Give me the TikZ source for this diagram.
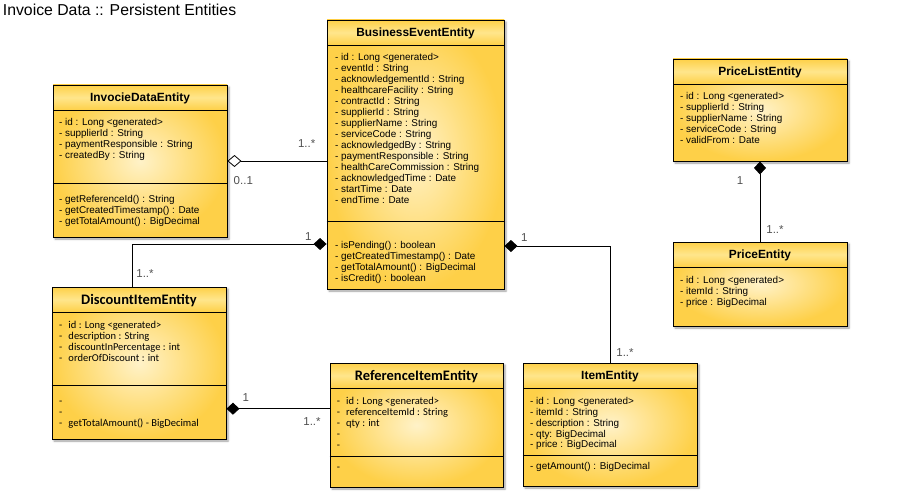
\documentclass[tikz,border=0pt]{standalone}
\usepackage{fontspec}
\setmainfont{Liberation Sans}
\newfontfamily\calfont{Carlito}
\usetikzlibrary{arrows.meta,shadows.blur}
\definecolor{umlouter}{RGB}{254,208,72}
\definecolor{umlinner}{RGB}{255,242,200}
\definecolor{umlband}{RGB}{255,230,140}
\definecolor{multgray}{RGB}{80,80,80}
\newcommand{\dash}{\makebox[9.3pt][l]{-}}

\begin{document}
\begin{tikzpicture}[x=1pt,y=-1pt,
    classbox/.style={rectangle, draw, line width=0.9pt, inner sep=0pt, inner color=umlinner, outer color=umlouter,
        blur shadow={shadow xshift=2pt, shadow yshift=-2pt, shadow blur radius=2pt, shadow opacity=40}},
    band/.style={rectangle, draw, line width=0.9pt, inner sep=0pt, anchor=north, minimum height=25pt,
        top color=umlouter, bottom color=umlouter, middle color=umlband, text depth=0pt},
    ctitle/.style={band, font=\fontsize{11.9}{13}\selectfont\bfseries},
    ktitle/.style={band, font=\calfont\fontsize{14.5}{16}\selectfont\bfseries},
    members/.style={anchor=north west, align=left, inner sep=0pt, font=\fontsize{9.9}{10.95}\selectfont},
    kmembers/.style={anchor=north west, align=left, inner sep=0pt, font=\calfont\fontsize{10.5}{11}\selectfont},
    divider/.style={line width=0.9pt},
    mult/.style={font=\fontsize{11.5}{13}\selectfont, text=multgray, text depth=0pt, inner sep=0pt},
    compo/.style={{Diamond[length=13pt,width=12pt]}-, line width=0.8pt},
    aggr/.style={{Diamond[open,length=14pt,width=12pt,fill=white]}-, line width=0.8pt}
]
\useasboundingbox (0,0) rectangle (915,492);

% Diagram title
\node[anchor=base west, inner sep=0pt, font=\fontsize{15.8}{18}\selectfont] (diagtitle) at (2.7,15.5) {Invoice Data :: Persistent Entities};

% Class boxes
\node[classbox, minimum width=174pt, minimum height=152pt] (ide) at (140,161) {};
\node[classbox, minimum width=177pt, minimum height=269pt] (bee) at (415.5,154.5) {};
\node[classbox, minimum width=174pt, minimum height=102pt] (ple) at (760,110) {};
\node[classbox, minimum width=174pt, minimum height=84pt] (pe) at (760,284) {};
\node[classbox, minimum width=174pt, minimum height=152pt] (die) at (139,363) {};
\node[classbox, minimum width=173pt, minimum height=124pt] (rie) at (416.5,425) {};
\node[classbox, minimum width=174pt, minimum height=123pt] (ie) at (610,424.5) {};

% Title compartments
\node[ctitle, minimum width=174pt] (ide-t) at (ide.north) {InvocieDataEntity};
\node[ctitle, minimum width=177pt] (bee-t) at (bee.north) {BusinessEventEntity};
\node[ctitle, minimum width=174pt] (ple-t) at (ple.north) {PriceListEntity};
\node[ctitle, minimum width=174pt] (pe-t) at (pe.north) {PriceEntity};
\node[ktitle, minimum width=174pt] (die-t) at (die.north) {DiscountItemEntity};
\node[ktitle, minimum width=173pt] (rie-t) at (rie.north) {ReferenceItemEntity};
\node[ctitle, minimum width=174pt] (ie-t) at (ie.north) {ItemEntity};

% Method dividers
\draw[divider] (ide.west |- 0,183) -- (ide.east |- 0,183);
\draw[divider] (bee.west |- 0,221) -- (bee.east |- 0,221);
\draw[divider] (die.west |- 0,385) -- (die.east |- 0,385);
\draw[divider] (rie.west |- 0,456) -- (rie.east |- 0,456);
\draw[divider] (ie.west |- 0,455) -- (ie.east |- 0,455);

% Attributes and methods
\node[members] (ide-a) at (59,118) {\strut- id : Long <generated>\\- supplierId : String\\- paymentResponsible : String\\- createdBy : String};
\node[members] (ide-m) at (59,194.3) {\strut- getReferenceId() : String\\- getCreatedTimestamp() : Date\\- getTotalAmount() : BigDecimal};

\node[members] (bee-a) at (335,53) {\strut- id : Long <generated>\\- eventId : String\\- acknowledgementId : String\\- healthcareFacility : String\\- contractId : String\\- supplierId : String\\- supplierName : String\\- serviceCode : String\\- acknowledgedBy : String\\- paymentResponsible : String\\- healthCareCommission : String\\- acknowledgedTime : Date\\- startTime : Date\\- endTime : Date};
\node[members] (bee-m) at (335,240.3) {\strut- isPending() : boolean\\- getCreatedTimestamp() : Date\\- getTotalAmount() : BigDecimal\\- isCredit() : boolean};

\node[members] (ple-a) at (680,92) {\strut- id : Long <generated>\\- supplierId : String\\- supplierName : String\\- serviceCode : String\\- validFrom : Date};
\node[members] (pe-a) at (680,276) {\strut- id : Long <generated>\\- itemId : String\\- price : BigDecimal};

\node[members] (ie-a) at (530,396.3) {\strut- id : Long <generated>\\- itemId : String\\- description : String\\- qty: BigDecimal\\- price : BigDecimal};
\node[members] (ie-m) at (530,462) {\strut- getAmount() : BigDecimal};

\node[kmembers] (die-a) at (59,320.3) {\strut\dash id : Long <generated>\\\dash description : String\\\dash discountInPercentage : int\\\dash orderOfDiscount : int};
\node[kmembers] (die-m) at (59,397) {\strut-\\-\\\dash getTotalAmount() - BigDecimal};

\node[kmembers] (rie-a) at (336.7,397) {\strut\dash id : Long <generated>\\\dash referenceItemId : String\\\dash qty : int\\-\\-};
\node[kmembers] (rie-m) at (336.7,462.6) {\strut-};

% Associations
\draw[aggr] (ide.east) -- (bee.west |- ide.east);
\draw[compo] ([yshift=-89.5pt]bee.west) -| ([xshift=-7pt]die.north);
\draw[compo] ([yshift=-91.5pt]bee.east) -| (ie.north);
\draw[compo] (ple.south) -- (pe.north);
\draw[compo] ([yshift=-45.7pt]die.east) -- ([yshift=16.3pt]rie.west);

% Multiplicities
\node[mult] (m-bee-ide) at (306.7,144) {1..*};
\node[mult] (m-ide-bee) at (243.3,180.7) {0..1};
\node[mult] (m-bee-die) at (308.3,236.7) {1};
\node[mult] (m-die-bee) at (145,274) {1..*};
\node[mult] (m-bee-ie) at (524.3,237.3) {1};
\node[mult] (m-ie-bee) at (625,352.7) {1..*};
\node[mult] (m-ple-pe) at (740,180.7) {1};
\node[mult] (m-pe-ple) at (775,230) {1..*};
\node[mult] (m-die-rie) at (245.7,398) {1};
\node[mult] (m-rie-die) at (312,421.5) {1..*};

\end{tikzpicture}
\end{document}
